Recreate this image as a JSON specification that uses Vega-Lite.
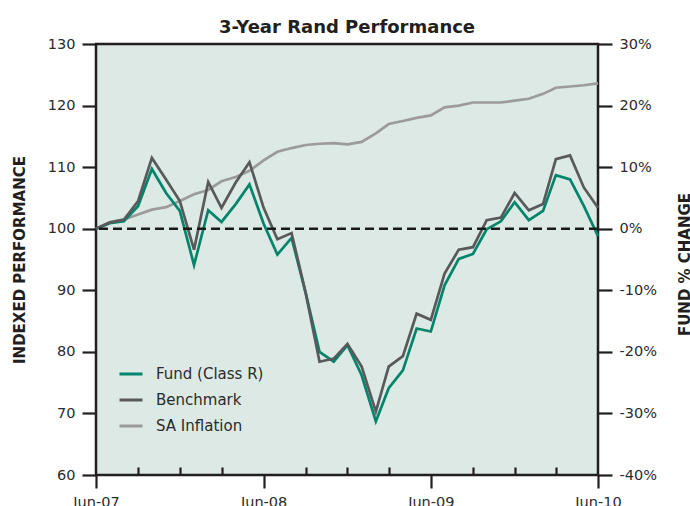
{
  "$schema": "https://vega.github.io/schema/vega-lite/v6.json",
  "width": 502,
  "height": 431,
  "autosize": {"type": "none"},
  "padding": {"left": 96, "top": 44, "right": 92, "bottom": 31},
  "title": {"text": "3-Year Rand Performance", "font": "DejaVu Sans", "fontSize": 18, "fontWeight": "bold", "color": "#231f20", "anchor": "middle", "frame": "group", "baseline": "alphabetic", "offset": -15},
  "config": {
    "view": {"stroke": "#231f20", "strokeWidth": 2.5, "fill": "#dce9e5"},
    "axis": {"grid": false, "domain": false, "labelFont": "DejaVu Sans", "labelFontSize": 14.5, "labelColor": "#2b2b2b", "tickColor": "#231f20", "tickWidth": 2.2, "titleFont": "DejaVu Sans", "titleFontSize": 15, "titleFontWeight": "bold", "titleColor": "#231f20"}
  },
  "data": {"values": [
    {"date": "2007-06-01", "series": "Fund (Class R)", "value": 100},
    {"date": "2007-07-01", "series": "Fund (Class R)", "value": 100.9},
    {"date": "2007-08-01", "series": "Fund (Class R)", "value": 101.2},
    {"date": "2007-09-01", "series": "Fund (Class R)", "value": 103.7},
    {"date": "2007-10-01", "series": "Fund (Class R)", "value": 109.7},
    {"date": "2007-11-01", "series": "Fund (Class R)", "value": 105.8},
    {"date": "2007-12-01", "series": "Fund (Class R)", "value": 102.9},
    {"date": "2008-01-01", "series": "Fund (Class R)", "value": 94.1},
    {"date": "2008-02-01", "series": "Fund (Class R)", "value": 103.0},
    {"date": "2008-03-01", "series": "Fund (Class R)", "value": 101.1},
    {"date": "2008-04-01", "series": "Fund (Class R)", "value": 104.0},
    {"date": "2008-05-01", "series": "Fund (Class R)", "value": 107.2},
    {"date": "2008-06-01", "series": "Fund (Class R)", "value": 100.8},
    {"date": "2008-07-01", "series": "Fund (Class R)", "value": 95.8},
    {"date": "2008-08-01", "series": "Fund (Class R)", "value": 98.5},
    {"date": "2008-09-01", "series": "Fund (Class R)", "value": 89.5},
    {"date": "2008-10-01", "series": "Fund (Class R)", "value": 80.0},
    {"date": "2008-11-01", "series": "Fund (Class R)", "value": 78.4},
    {"date": "2008-12-01", "series": "Fund (Class R)", "value": 81.1},
    {"date": "2009-01-01", "series": "Fund (Class R)", "value": 76.2},
    {"date": "2009-02-01", "series": "Fund (Class R)", "value": 68.7},
    {"date": "2009-03-01", "series": "Fund (Class R)", "value": 74.1},
    {"date": "2009-04-01", "series": "Fund (Class R)", "value": 77.0},
    {"date": "2009-05-01", "series": "Fund (Class R)", "value": 83.8},
    {"date": "2009-06-01", "series": "Fund (Class R)", "value": 83.3},
    {"date": "2009-07-01", "series": "Fund (Class R)", "value": 90.8},
    {"date": "2009-08-01", "series": "Fund (Class R)", "value": 95.1},
    {"date": "2009-09-01", "series": "Fund (Class R)", "value": 95.9},
    {"date": "2009-10-01", "series": "Fund (Class R)", "value": 99.9},
    {"date": "2009-11-01", "series": "Fund (Class R)", "value": 101.2},
    {"date": "2009-12-01", "series": "Fund (Class R)", "value": 104.3},
    {"date": "2010-01-01", "series": "Fund (Class R)", "value": 101.4},
    {"date": "2010-02-01", "series": "Fund (Class R)", "value": 102.9},
    {"date": "2010-03-01", "series": "Fund (Class R)", "value": 108.7},
    {"date": "2010-04-01", "series": "Fund (Class R)", "value": 108.0},
    {"date": "2010-05-01", "series": "Fund (Class R)", "value": 103.7},
    {"date": "2010-06-01", "series": "Fund (Class R)", "value": 98.8},
    {"date": "2007-06-01", "series": "Benchmark", "value": 100},
    {"date": "2007-07-01", "series": "Benchmark", "value": 101.0},
    {"date": "2007-08-01", "series": "Benchmark", "value": 101.5},
    {"date": "2007-09-01", "series": "Benchmark", "value": 104.5},
    {"date": "2007-10-01", "series": "Benchmark", "value": 111.5},
    {"date": "2007-11-01", "series": "Benchmark", "value": 108.0},
    {"date": "2007-12-01", "series": "Benchmark", "value": 104.5},
    {"date": "2008-01-01", "series": "Benchmark", "value": 96.6},
    {"date": "2008-02-01", "series": "Benchmark", "value": 107.6},
    {"date": "2008-03-01", "series": "Benchmark", "value": 103.4},
    {"date": "2008-04-01", "series": "Benchmark", "value": 107.5},
    {"date": "2008-05-01", "series": "Benchmark", "value": 110.8},
    {"date": "2008-06-01", "series": "Benchmark", "value": 103.4},
    {"date": "2008-07-01", "series": "Benchmark", "value": 98.3},
    {"date": "2008-08-01", "series": "Benchmark", "value": 99.3},
    {"date": "2008-09-01", "series": "Benchmark", "value": 89.5},
    {"date": "2008-10-01", "series": "Benchmark", "value": 78.4},
    {"date": "2008-11-01", "series": "Benchmark", "value": 78.9},
    {"date": "2008-12-01", "series": "Benchmark", "value": 81.3},
    {"date": "2009-01-01", "series": "Benchmark", "value": 77.6},
    {"date": "2009-02-01", "series": "Benchmark", "value": 70.3},
    {"date": "2009-03-01", "series": "Benchmark", "value": 77.6},
    {"date": "2009-04-01", "series": "Benchmark", "value": 79.3},
    {"date": "2009-05-01", "series": "Benchmark", "value": 86.2},
    {"date": "2009-06-01", "series": "Benchmark", "value": 85.2},
    {"date": "2009-07-01", "series": "Benchmark", "value": 92.7},
    {"date": "2009-08-01", "series": "Benchmark", "value": 96.6},
    {"date": "2009-09-01", "series": "Benchmark", "value": 97.0},
    {"date": "2009-10-01", "series": "Benchmark", "value": 101.4},
    {"date": "2009-11-01", "series": "Benchmark", "value": 101.8},
    {"date": "2009-12-01", "series": "Benchmark", "value": 105.8},
    {"date": "2010-01-01", "series": "Benchmark", "value": 103.0},
    {"date": "2010-02-01", "series": "Benchmark", "value": 104.0},
    {"date": "2010-03-01", "series": "Benchmark", "value": 111.3},
    {"date": "2010-04-01", "series": "Benchmark", "value": 111.9},
    {"date": "2010-05-01", "series": "Benchmark", "value": 106.7},
    {"date": "2010-06-01", "series": "Benchmark", "value": 103.4},
    {"date": "2007-06-01", "series": "SA Inflation", "value": 100},
    {"date": "2007-07-01", "series": "SA Inflation", "value": 101.1},
    {"date": "2007-08-01", "series": "SA Inflation", "value": 101.5},
    {"date": "2007-09-01", "series": "SA Inflation", "value": 102.3},
    {"date": "2007-10-01", "series": "SA Inflation", "value": 103.1},
    {"date": "2007-11-01", "series": "SA Inflation", "value": 103.5},
    {"date": "2007-12-01", "series": "SA Inflation", "value": 104.5},
    {"date": "2008-01-01", "series": "SA Inflation", "value": 105.6},
    {"date": "2008-02-01", "series": "SA Inflation", "value": 106.3},
    {"date": "2008-03-01", "series": "SA Inflation", "value": 107.7},
    {"date": "2008-04-01", "series": "SA Inflation", "value": 108.4},
    {"date": "2008-05-01", "series": "SA Inflation", "value": 109.4},
    {"date": "2008-06-01", "series": "SA Inflation", "value": 111.1},
    {"date": "2008-07-01", "series": "SA Inflation", "value": 112.5},
    {"date": "2008-08-01", "series": "SA Inflation", "value": 113.1},
    {"date": "2008-09-01", "series": "SA Inflation", "value": 113.6},
    {"date": "2008-10-01", "series": "SA Inflation", "value": 113.8},
    {"date": "2008-11-01", "series": "SA Inflation", "value": 113.9},
    {"date": "2008-12-01", "series": "SA Inflation", "value": 113.7},
    {"date": "2009-01-01", "series": "SA Inflation", "value": 114.1},
    {"date": "2009-02-01", "series": "SA Inflation", "value": 115.5},
    {"date": "2009-03-01", "series": "SA Inflation", "value": 117.0},
    {"date": "2009-04-01", "series": "SA Inflation", "value": 117.5},
    {"date": "2009-05-01", "series": "SA Inflation", "value": 118.0},
    {"date": "2009-06-01", "series": "SA Inflation", "value": 118.4},
    {"date": "2009-07-01", "series": "SA Inflation", "value": 119.7},
    {"date": "2009-08-01", "series": "SA Inflation", "value": 120.0},
    {"date": "2009-09-01", "series": "SA Inflation", "value": 120.5},
    {"date": "2009-10-01", "series": "SA Inflation", "value": 120.5},
    {"date": "2009-11-01", "series": "SA Inflation", "value": 120.5},
    {"date": "2009-12-01", "series": "SA Inflation", "value": 120.8},
    {"date": "2010-01-01", "series": "SA Inflation", "value": 121.1},
    {"date": "2010-02-01", "series": "SA Inflation", "value": 121.9},
    {"date": "2010-03-01", "series": "SA Inflation", "value": 122.9},
    {"date": "2010-04-01", "series": "SA Inflation", "value": 123.1},
    {"date": "2010-05-01", "series": "SA Inflation", "value": 123.3},
    {"date": "2010-06-01", "series": "SA Inflation", "value": 123.6}
  ]},
  "layer": [
    {
      "transform": [{"filter": "datum.series === 'SA Inflation'"}],
      "mark": {"type": "line", "strokeWidth": 2.7},
      "encoding": {
        "x": {"field": "date", "type": "temporal",
          "scale": {"type": "utc", "domain": [{"year": 2007, "month": 6, "date": 1, "utc": true}, {"year": 2010, "month": 6, "date": 1, "utc": true}]},
          "axis": {"orient": "bottom", "title": null, "labels": false, "tickSize": -8,
            "values": [{"year": 2007, "month": 9, "date": 1, "utc": true}, {"year": 2007, "month": 12, "date": 1, "utc": true}, {"year": 2008, "month": 3, "date": 1, "utc": true}, {"year": 2008, "month": 9, "date": 1, "utc": true}, {"year": 2008, "month": 12, "date": 1, "utc": true}, {"year": 2009, "month": 3, "date": 1, "utc": true}, {"year": 2009, "month": 9, "date": 1, "utc": true}, {"year": 2009, "month": 12, "date": 1, "utc": true}, {"year": 2010, "month": 3, "date": 1, "utc": true}]}},
        "y": {"field": "value", "type": "quantitative", "scale": {"domain": [60, 130], "nice": false, "zero": false}, "axis": null},
        "color": {"field": "series", "type": "nominal",
          "scale": {"domain": ["Fund (Class R)", "Benchmark", "SA Inflation"], "range": ["#00856a", "#58595b", "#9b9b9b"]}}
      }
    },
    {
      "transform": [{"filter": "datum.series !== 'SA Inflation'"}],
      "mark": {"type": "line", "strokeWidth": 2.7},
      "encoding": {
        "x": {"field": "date", "type": "temporal",
          "axis": {"orient": "bottom", "title": null, "labelExpr": "utcFormat(datum.value, '%b-%y')", "labelFlush": false, "labelOverlap": false, "tickSize": 13, "labelPadding": 7,
            "values": [{"year": 2007, "month": 6, "date": 1, "utc": true}, {"year": 2008, "month": 6, "date": 1, "utc": true}, {"year": 2009, "month": 6, "date": 1, "utc": true}, {"year": 2010, "month": 6, "date": 1, "utc": true}]}},
        "y": {"field": "value", "type": "quantitative", "scale": {"domain": [60, 130], "nice": false, "zero": false},
          "axis": {"orient": "left", "title": "INDEXED PERFORMANCE", "values": [60, 70, 80, 90, 100, 110, 120, 130], "tickSize": 14, "labelPadding": 7,
            "titleAngle": -90, "titleX": -77, "titleY": 215.5, "titleAlign": "center", "titleBaseline": "middle"}},
        "color": {"field": "series", "type": "nominal",
          "scale": {"domain": ["Fund (Class R)", "Benchmark", "SA Inflation"], "range": ["#00856a", "#58595b", "#9b9b9b"]},
          "legend": {"orient": "none", "legendX": 22, "legendY": 317, "title": null, "symbolType": "stroke", "symbolStrokeWidth": 3, "symbolSize": 529, "labelFont": "DejaVu Sans", "labelFontSize": 15, "labelColor": "#2b2b2b", "labelOffset": 12, "rowPadding": 5, "padding": 0}}
      }
    },
    {
      "data": {"values": [{}]},
      "mark": {"type": "rule", "strokeDash": [9, 5], "strokeWidth": 2.5, "color": "#1a1a1a"},
      "encoding": {
        "y": {"datum": 0, "type": "quantitative", "scale": {"domain": [-40, 30], "nice": false, "zero": false},
          "axis": {"orient": "right", "title": "FUND % CHANGE", "values": [-40, -30, -20, -10, 0, 10, 20, 30], "labelExpr": "datum.value + '%'", "tickSize": 14, "labelPadding": 7,
            "titleAngle": -90, "titleX": 86, "titleY": 220, "titleAlign": "center", "titleBaseline": "middle"}}
      }
    }
  ],
  "resolve": {"scale": {"y": "independent"}, "axis": {"x": "independent", "y": "independent"}}
}
